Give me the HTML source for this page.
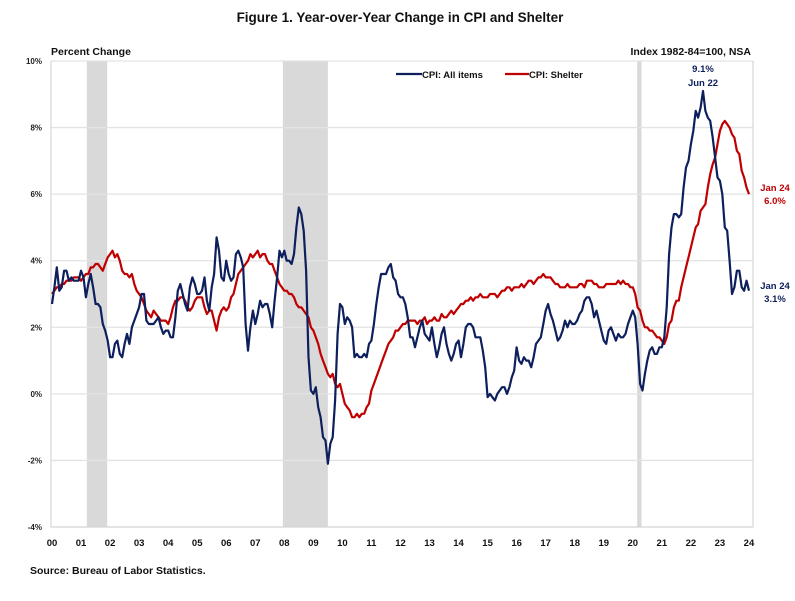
<!DOCTYPE html>
<html><head><meta charset="utf-8"><style>
body{margin:0;background:#fff;width:795px;height:596px;overflow:hidden;font-family:"Liberation Sans",sans-serif}
svg text{font-family:"Liberation Sans",sans-serif;font-weight:bold}
</style></head><body>
<svg id="c" width="795" height="596">
<text x="400" y="22" text-anchor="middle" font-size="13.5" fill="#111">Figure 1. Year-over-Year Change in CPI and Shelter</text>
<text x="51" y="55" font-size="10.5" fill="#111">Percent Change</text>
<text x="751" y="55" text-anchor="end" font-size="10.5" fill="#111">Index 1982-84=100, NSA</text>
<text x="30" y="574" font-size="10.5" fill="#111">Source: Bureau of Labor Statistics.</text>
<g id="g"></g>
</svg>
<script>
const yTicks=[10,8,6,4,2,0,-2,-4];
const yearLabels=["00","01","02","03","04","05","06","07","08","09","10","11","12","13","14","15","16","17","18","19","20","21","22","23","24"];
const recessions=[[2001.2,2001.9],[2007.95,2009.5],[2020.15,2020.3]];
const cpiAll=[2.7,3.2,3.8,3.1,3.2,3.7,3.7,3.4,3.5,3.4,3.4,3.4,
3.7,3.5,2.9,3.3,3.6,3.2,2.7,2.7,2.6,2.1,1.9,1.6,
1.1,1.1,1.5,1.6,1.2,1.1,1.5,1.8,1.5,2.0,2.2,2.4,
2.6,3.0,3.0,2.2,2.1,2.1,2.1,2.2,2.3,2.0,1.8,1.9,
1.9,1.7,1.7,2.3,3.1,3.3,3.0,2.7,2.5,3.2,3.5,3.3,
3.0,3.0,3.1,3.5,2.8,2.5,3.2,3.6,4.7,4.3,3.5,3.4,
4.0,3.6,3.4,3.5,4.2,4.3,4.1,3.8,2.1,1.3,2.0,2.5,
2.1,2.4,2.8,2.6,2.7,2.7,2.4,2.0,2.8,3.5,4.3,4.1,
4.3,4.0,4.0,3.9,4.2,5.0,5.6,5.4,4.9,3.7,1.1,0.1,
0.0,0.2,-0.4,-0.7,-1.3,-1.4,-2.1,-1.5,-1.3,-0.2,1.8,2.7,
2.6,2.1,2.3,2.2,2.0,1.1,1.2,1.1,1.1,1.2,1.1,1.5,
1.6,2.1,2.7,3.2,3.6,3.6,3.6,3.8,3.9,3.5,3.4,3.0,
2.9,2.9,2.7,2.3,1.7,1.7,1.4,1.7,2.0,2.2,1.8,1.7,
1.6,2.0,1.5,1.1,1.4,1.8,2.0,1.5,1.2,1.0,1.2,1.5,
1.6,1.1,1.5,2.0,2.1,2.1,2.0,1.7,1.7,1.7,1.3,0.8,
-0.1,0.0,-0.1,-0.2,0.0,0.1,0.2,0.2,0.0,0.2,0.5,0.7,
1.4,1.0,0.9,1.1,1.0,1.0,0.8,1.1,1.5,1.6,1.7,2.1,
2.5,2.7,2.4,2.2,1.9,1.6,1.7,1.9,2.2,2.0,2.2,2.1,
2.1,2.2,2.4,2.5,2.8,2.9,2.9,2.7,2.3,2.5,2.2,1.9,
1.6,1.5,1.9,2.0,1.8,1.6,1.8,1.7,1.7,1.8,2.1,2.3,
2.5,2.3,1.5,0.3,0.1,0.6,1.0,1.3,1.4,1.2,1.2,1.4,
1.4,1.7,2.6,4.2,5.0,5.4,5.4,5.3,5.4,6.2,6.8,7.0,
7.5,7.9,8.5,8.3,8.6,9.1,8.5,8.3,8.2,7.7,7.1,6.5,
6.4,6.0,5.0,4.9,4.0,3.0,3.2,3.7,3.7,3.2,3.1,3.4,
3.1];
const shelter=[3.0,3.1,3.2,3.2,3.3,3.3,3.4,3.4,3.4,3.5,3.5,3.5,
3.4,3.5,3.6,3.6,3.8,3.8,3.9,3.9,3.8,3.7,3.9,4.1,
4.2,4.3,4.1,4.2,4.0,3.7,3.6,3.6,3.5,3.6,3.3,3.1,
3.0,2.9,2.7,2.5,2.4,2.3,2.5,2.4,2.3,2.2,2.2,2.2,
2.1,2.3,2.6,2.8,2.8,2.9,2.9,2.8,2.6,2.5,2.6,2.8,
2.9,2.9,2.9,2.6,2.4,2.5,2.5,2.2,1.9,2.3,2.5,2.6,
2.5,2.6,2.9,3.0,3.3,3.6,3.7,3.8,3.9,4.0,4.2,4.1,
4.2,4.3,4.1,4.2,4.2,4.0,3.9,3.9,3.7,3.5,3.3,3.2,
3.1,3.1,3.0,3.0,2.9,2.7,2.6,2.6,2.5,2.4,2.3,2.0,
1.9,1.7,1.5,1.2,1.0,0.8,0.6,0.5,0.6,0.3,0.2,0.3,
0.0,-0.3,-0.4,-0.5,-0.7,-0.7,-0.6,-0.7,-0.6,-0.6,-0.4,-0.3,
0.1,0.3,0.5,0.7,0.9,1.1,1.3,1.5,1.6,1.7,1.9,1.9,
2.0,2.1,2.1,2.2,2.2,2.2,2.2,2.1,2.2,2.2,2.3,2.1,
2.2,2.2,2.3,2.2,2.2,2.4,2.3,2.3,2.4,2.5,2.4,2.5,
2.6,2.7,2.7,2.8,2.8,2.9,2.8,2.9,2.9,3.0,2.9,2.9,
2.9,3.0,3.0,3.0,2.9,3.0,3.1,3.1,3.2,3.2,3.1,3.2,
3.2,3.2,3.3,3.2,3.3,3.4,3.4,3.3,3.4,3.5,3.5,3.6,
3.5,3.5,3.5,3.4,3.3,3.3,3.2,3.2,3.2,3.3,3.2,3.2,
3.2,3.2,3.3,3.3,3.2,3.4,3.4,3.4,3.3,3.3,3.2,3.2,
3.2,3.3,3.3,3.3,3.3,3.3,3.4,3.3,3.4,3.3,3.3,3.2,
3.2,3.0,2.6,2.5,2.2,2.0,2.0,1.9,1.9,1.8,1.7,1.7,
1.6,1.5,1.7,2.1,2.2,2.6,2.8,2.8,3.2,3.5,3.8,4.1,
4.4,4.7,5.0,5.1,5.5,5.6,5.7,6.2,6.6,6.9,7.1,7.5,
7.9,8.1,8.2,8.1,8.0,7.8,7.7,7.3,7.2,6.7,6.5,6.2,
6.0];
const NS="http://www.w3.org/2000/svg";
const g=document.getElementById('g');
const X0=52,PX=29.04,L=51,R=753,T=61,B=527;
const xs=t=>X0+(t-2000)*PX;
const ys=v=>T+(10-v)*(B-T)/14;
function mk(tag,at,txt){const e=document.createElementNS(NS,tag);for(const k in at)e.setAttribute(k,at[k]);if(txt!=null)e.textContent=txt;g.appendChild(e);return e;}
recessions.forEach(r=>{
 const e=mk('rect',{x:xs(r[0]),y:T,width:xs(r[1])-xs(r[0]),height:B-T,fill:'#d9d9d9'});
 
 
});
yTicks.forEach(v=>{
 const l=mk('line',{x1:L,x2:R,y1:ys(v),y2:ys(v),stroke:'#e3e3e3','stroke-width':1.3});
 
 
 const t=mk('text',{x:42,y:ys(v)+3,'text-anchor':'end','font-size':8,fill:'#222'},v+'%');
 
 
});
const ax=mk('path',{d:`M${L},${T}V${B}H${R}V${T}`,fill:'none',stroke:'#cfcfcf','stroke-width':1});


yearLabels.forEach((s,i)=>{
 const t=mk('text',{x:xs(2000+i),y:546,'text-anchor':'middle','font-size':9.5,fill:'#111'},s);
 
 
});
function line(arr,col,name){
 const d=arr.map((v,i)=>(i?'L':'M')+xs(2000+i/12).toFixed(1)+','+ys(v).toFixed(1)).join('');
 const p=mk('path',{d:d,fill:'none',stroke:col,'stroke-width':2.2,'stroke-linejoin':'round'});
 
 
}
line(shelter,'#c00000','shelter-line');
line(cpiAll,'#0d1f5c','cpi-all-items-line');
const l1=mk('line',{x1:396,x2:422,y1:74,y2:74,stroke:'#0d1f5c','stroke-width':2.2});


const t1=mk('text',{x:422,y:78,'font-size':9.5,fill:'#111'},'CPI: All items');


const l2=mk('line',{x1:505,x2:529,y1:74,y2:74,stroke:'#c00000','stroke-width':2.2});


const t2=mk('text',{x:529,y:78,'font-size':9.5,fill:'#111'},'CPI: Shelter');


[[703,72,'9.1%','#0d1f5c'],[703,86,'Jun 22','#0d1f5c'],[775,191,'Jan 24','#c00000'],[775,204,'6.0%','#c00000'],[775,289,'Jan 24','#0d1f5c'],[775,302,'3.1%','#0d1f5c']].forEach(a=>{
 const t=mk('text',{x:a[0],y:a[1],'text-anchor':'middle','font-size':9.5,fill:a[3]},a[2]);
 
 
});
</script>
</body></html>
